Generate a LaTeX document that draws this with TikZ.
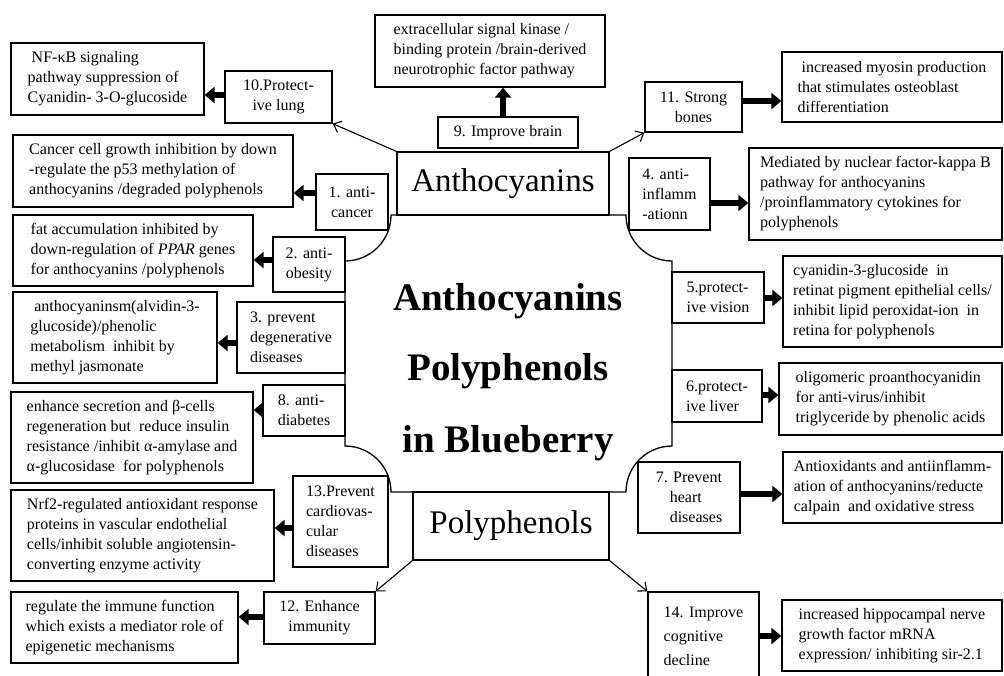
\documentclass[tikz,border=0pt]{standalone}
\usepackage{fontspec}
\setmainfont{Liberation Serif}
\usetikzlibrary{arrows.meta}
\begin{document}
\begin{tikzpicture}[x=1pt,y=-1pt,
  box/.style={draw, line width=1.3pt, fill=white, inner sep=0pt, font=\fontsize{16}{20}\selectfont},
  sz/.style 2 args={minimum width=#1pt, minimum height=#2pt},
  conn/.style={line width=1.1pt, -{Straight Barb[length=7pt,width=12pt]}},
  fat/.style={line width=6pt, -{Triangle[length=10pt,width=16pt]}},
  big/.style={draw, line width=1.3pt, fill=white, inner sep=0pt, font=\fontsize{33}{40}\selectfont},
  ctr/.style={anchor=base, font=\fontsize{39}{47}\selectfont\bfseries}
]
\useasboundingbox (0,0) rectangle (1004,675);
\fill[white] (0,0) rectangle (1004,675);
\clip (0,0) rectangle (1004,675);

% central body
\draw[line width=1.3pt, fill=white] (391,215) -- (626,215) arc[start angle=180, end angle=90, radius=46]
  -- (672,446) arc[start angle=270, end angle=180, radius=46]
  -- (391,492) arc[start angle=0, end angle=-90, radius=46]
  -- (345,261) arc[start angle=90, end angle=0, radius=46] -- cycle;
\node[ctr] (t1) at (508,310) {Anthocyanins};
\node[ctr] (t2) at (508,380) {Polyphenols};
\node[ctr] (t3) at (508,452) {in Blueberry};

\node[big, sz={212}{63}] (antho) at (503,183.5) {Anthocyanins};
\node[big, sz={196}{68}] (poly) at (511,526) {Polyphenols};

% label boxes
\node[box, align=center, sz={107}{52}] (b10) at (278.5,97) {10.Protect-\\ive lung};
\node[box, align=center, sz={140}{31}] (b9) at (508,132.5) {9. Improve brain};
\node[box, align=center, sz={97}{50}] (b11) at (693.5,107) {11. Strong\\bones};
\node[box, align=center, sz={72}{56}] (b1) at (352,202) {1. anti-\\cancer};
\node[box, align=left, sz={81}{72}] (b4) at (669.5,194) {4. anti-\\inflamm\\-ationn};
\node[box, align=center, sz={72}{55}] (b2) at (309,264.5) {2. anti-\\obesity};
\node[box, align=left, sz={108}{71}] (b3) at (291,337.5) {3. prevent\\degenerative\\diseases};
\node[box, align=left, sz={92}{51}] (b5) at (718,297.5) {5.protect-\\ive vision};
\node[box, align=left, sz={82}{51}] (b8) at (304,410.5) {8. anti-\\diabetes};
\node[box, align=left, sz={90}{52}] (b6) at (717,396) {6.protect-\\ive liver};
\node[box, align=left, sz={102}{71}] (b7) at (689,497.5) {7. Prevent\\\hspace*{14pt}heart\\\hspace*{14pt}diseases};
\node[box, align=left, sz={95}{91}] (b13) at (340.5,521.5) {13.Prevent\\cardiovas-\\cular\\diseases};
\node[box, align=center, sz={111}{52}] (b12) at (319.5,618) {12. Enhance\\immunity};
\node[box, align=left, sz={111}{88}, font=\fontsize{16}{24}\selectfont] (b14) at (703.5,636) {14. Improve\\cognitive\\decline};

% description boxes
\node[box, align=left, sz={193}{72}] (d10) at (107.5,79) {\ NF-κB signaling\\pathway suppression of\\Cyanidin- 3-O-glucoside};
\node[box, align=left, sz={230}{72}] (d9) at (490,51) {extracellular signal kinase /\\binding protein /brain-derived\\neurotrophic factor pathway};
\node[box, align=left, sz={220}{70}] (d11) at (892,87) {\ increased myosin production\\that stimulates osteoblast\\differentiation};
\node[box, align=left, sz={280}{72}] (d1) at (153,171) {Cancer cell growth inhibition by down\\-regulate the p53 methylation of\\anthocyanins /degraded polyphenols};
\node[box, align=left, sz={253}{92}] (d4) at (875.5,194) {Mediated by nuclear factor-kappa B\\pathway for anthocyanins\\/proinflammatory cytokines for\\polyphenols};
\node[box, align=left, sz={240}{71}] (d2) at (133,250.5) {fat accumulation inhibited by\\down-regulation of \textit{PPAR} genes\\for anthocyanins /polyphenols};
\node[box, align=left, sz={204}{91}] (d3) at (115,337.5) {\ anthocyaninsm(alvidin-3-\\glucoside)/phenolic\\metabolism\ \ inhibit by\\methyl jasmonate};
\node[box, align=left, sz={219}{91}] (d5) at (892.5,301.5) {cyanidin-3-glucoside\ \ in\\retinat pigment epithelial cells/\\inhibit lipid peroxidat-ion\ \ in\\retina for polyphenols};
\node[box, align=left, sz={242}{91}] (d8) at (132,437.5) {enhance secretion and β-cells\\regeneration but\ \ reduce insulin\\resistance /inhibit α-amylase and\\α-glucosidase\ \ for polyphenols};
\node[box, align=left, sz={223}{72}] (d6) at (890.5,399) {oligomeric proanthocyanidin\\for anti-virus/inhibit\\triglyceride by phenolic acids};
\node[box, align=left, sz={263}{91}] (d13) at (142.5,535.5) {Nrf2-regulated antioxidant response\\proteins in vascular endothelial\\cells/inhibit soluble angiotensin-\\converting enzyme activity};
\node[box, align=left, sz={219}{71}] (d7) at (892.5,487.5) {Antioxidants and antiinflamm-\\ation of anthocyanins/reducte\\calpain\ \ and oxidative stress};
\node[box, align=left, sz={227}{71}] (d12) at (124.5,627.5) {regulate the immune function\\which exists a mediator role of\\epigenetic mechanisms};
\node[box, align=left, sz={220}{71}] (d14) at (892,635.5) {increased hippocampal nerve\\growth factor mRNA\\expression/ inhibiting sir-2.1};

% thin connectors
\draw[conn] (antho.north west) -- (b10.south east);
\draw[conn] (antho.north east) -- (b11.south west);
\draw[conn] (poly.south west) -- (b12.north east);
\draw[conn] (poly.south east) -- (b14.north west);

% thick arrows
\draw[fat] (b9.north -| 503,0) -- (d9.south -| 503,0);
\draw[fat] (b10.west |- 0,95) -- (d10.east |- 0,95);
\draw[fat] (b1.west |- 0,193) -- (d1.east |- 0,193);
\draw[fat] (b2.west |- 0,260) -- (d2.east |- 0,260);
\draw[fat] (b3.west |- 0,343) -- (d3.east |- 0,343);
\draw[fat] (b8.west |- 0,410) -- (d8.east |- 0,410);
\draw[fat] (b13.west |- 0,528) -- (d13.east |- 0,528);
\draw[fat] (b12.west |- 0,617) -- (d12.east |- 0,617);
\draw[fat] (b11.east |- 0,101) -- (d11.west |- 0,101);
\draw[fat] (b4.east |- 0,203) -- (d4.west |- 0,203);
\draw[fat] (b5.east |- 0,298) -- (d5.west |- 0,298);
\draw[fat] (b6.east |- 0,395) -- (d6.west |- 0,395);
\draw[fat] (b7.east |- 0,494) -- (d7.west |- 0,494);
\draw[fat] (b14.east |- 0,636) -- (d14.west |- 0,636);
\end{tikzpicture}
\end{document}
